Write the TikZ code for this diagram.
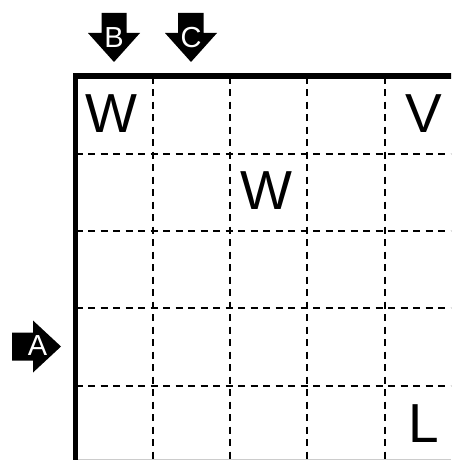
\documentclass[tikz,border=0pt]{standalone}
\usepackage{fontspec}
\setmainfont{Liberation Sans}
\begin{document}
\begin{tikzpicture}[x=1pt,y=-1pt,
  cellletter/.style={inner sep=0pt,font=\fontsize{55}{55}\selectfont},
  arrowletter/.style={inner sep=0pt,text=white,font=\fontsize{29}{29}\selectfont},
  gridline/.style={line width=2pt,dash pattern=on 7pt off 5.5pt},
  frame/.style={line width=5.8pt,line join=miter}]
\useasboundingbox (0,0) rectangle (451,460);
\begin{scope}
\clip (0,0) rectangle (451,460);
% dashed inner grid
\foreach \k in {1,2,3,4}{
  \pgfmathsetmacro{\p}{75.5+77.3*\k}
  \draw[gridline] (\p,76.5) -- (\p,470);
  \draw[gridline] (75.5,\p+1) -- (470,\p+1);
}
% bottom edge
\draw[gray!40,line width=1pt] (78,459.5) -- (451,459.5);
% thick frame
\coordinate (bl) at (75.5,470);
\coordinate (tl) at (75.5,76.3);
\coordinate (tr) at (470,76.3);
\draw[frame] (bl) -- (tl) -- (tr);
\end{scope}
% arrows
\fill (101.7,13) -- (126.7,13) -- (126.7,33) -- (140,33) -- (114,62) -- (88,33) -- (101.7,33) -- cycle;
\fill (178.2,13) -- (203.7,13) -- (203.7,33) -- (217,33) -- (191,62) -- (165,33) -- (178.2,33) -- cycle;
\fill (12,332.5) -- (33,332.5) -- (33,320.5) -- (61,346.5) -- (33,372.5) -- (33,360.5) -- (12,360.5) -- cycle;
\node[arrowletter] (B) at (114,37.5) {B};
\node[arrowletter] (C) at (191,37.5) {C};
\node[arrowletter] (A) at (37.5,346) {A};
% cell letters
\node[cellletter] (w1) at (111,114) {W};
\node[cellletter] (v1) at (424,114) {V};
\node[cellletter] (w2) at (266,191) {W};
\node[cellletter] (l1) at (424,424) {L};
\end{tikzpicture}
\end{document}
